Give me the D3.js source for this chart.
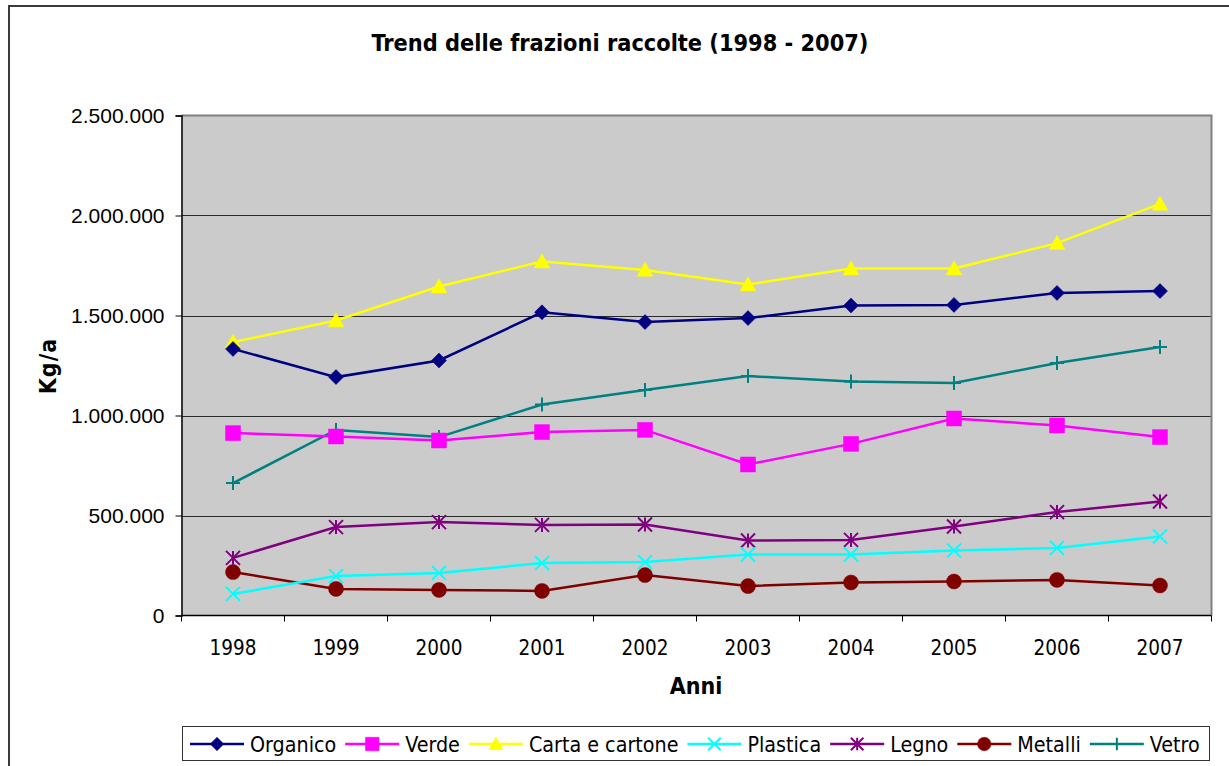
<!DOCTYPE html>
<html>
<head>
<meta charset="utf-8">
<script src="https://cdn.jsdelivr.net/npm/d3@7"></script>
<style>
  html, body { margin: 0; padding: 0; background: #fff; }
  svg { display: block; }
</style>
</head>
<body>
<svg id="chart" width="1229" height="766"></svg>
<script>
// Raccolta differenziata: quantità annue per frazione (kg/anno)
const years = ["1998", "1999", "2000", "2001", "2002", "2003", "2004", "2005", "2006", "2007"];

const organico = [1333000, 1192000, 1275000, 1516000, 1467000, 1487000, 1550000, 1553000, 1613000, 1622000];
const verde    = [912000, 895000, 875000, 917000, 928000, 755000, 858000, 985000, 950000, 892000];
const carta    = [1367000, 1475000, 1645000, 1770000, 1728000, 1655000, 1735000, 1735000, 1862000, 2058000];
const plastica = [108000, 197000, 213000, 262000, 267000, 305000, 305000, 325000, 338000, 395000];
const legno    = [288000, 442000, 467000, 453000, 455000, 375000, 378000, 445000, 517000, 570000];
const metalli  = [217000, 133000, 128000, 123000, 202000, 147000, 165000, 170000, 178000, 150000];
const vetro    = [662000, 928000, 892000, 1055000, 1128000, 1197000, 1170000, 1163000, 1262000, 1342000];

const yTicks = [0, 500000, 1000000, 1500000, 2000000, 2500000];

const series = [
  { name: "Organico",         values: organico, color: "#000080", marker: "diamond" },
  { name: "Verde",            values: verde,    color: "#FF00FF", marker: "square" },
  { name: "Carta e cartone",  values: carta,    color: "#FFFF00", marker: "triangle" },
  { name: "Plastica",         values: plastica, color: "#00FFFF", marker: "cross" },
  { name: "Legno",            values: legno,    color: "#800080", marker: "asterisk" },
  { name: "Metalli",          values: metalli,  color: "#800000", marker: "circle" },
  { name: "Vetro",            values: vetro,    color: "#008080", marker: "plus" }
];

const FONT = "'DejaVu Sans Condensed', 'DejaVu Sans', sans-serif";
const ARIAL = "'Liberation Sans', Arial, sans-serif";

const svg = d3.select("#chart");

// outer chart frame
svg.append("rect")
  .attr("x", 9).attr("y", 6).attr("width", 1260).attr("height", 820)
  .attr("fill", "#fff").attr("stroke", "#3a3a3a").attr("stroke-width", 2);

const plot = { left: 181.5, right: 1211.5, top: 115.5, bottom: 615.5 };

const x = d3.scaleBand().domain(years).range([plot.left, plot.right]);
const y = d3.scaleLinear().domain([0, 2500000]).range([plot.bottom, plot.top]);
const cx = d => x(d) + x.bandwidth() / 2;

// plot background
svg.append("rect")
  .attr("x", plot.left).attr("y", plot.top)
  .attr("width", plot.right - plot.left).attr("height", plot.bottom - plot.top)
  .attr("fill", "#cbcbcb");

// gridlines
svg.append("g").selectAll("line")
  .data(yTicks.filter(v => v > 0 && v < 2500000))
  .join("line")
  .attr("x1", plot.left).attr("x2", plot.right)
  .attr("y1", d => Math.round(y(d)) + 0.5).attr("y2", d => Math.round(y(d)) + 0.5)
  .attr("stroke", "#2a2a2a").attr("stroke-width", 1);

// top / right border of the plot area
svg.append("path")
  .attr("d", `M${plot.left},${plot.top} H${plot.right} V${plot.bottom}`)
  .attr("fill", "none").attr("stroke", "#808080").attr("stroke-width", 2);

// y axis
const fmt = v => d3.format(",")(v).replace(/,/g, ".");
const yAxis = svg.append("g")
  .attr("transform", `translate(${plot.left},0)`)
  .call(d3.axisLeft(y).tickValues(yTicks).tickFormat(fmt).tickSize(6).tickPadding(11));
yAxis.select(".domain").attr("stroke", "#000").attr("stroke-width", 1.5);
yAxis.selectAll(".tick line").attr("stroke", "#000");
yAxis.selectAll(".tick text")
  .attr("font-family", ARIAL).attr("font-size", 21).attr("fill", "#000");

// x axis: ticks on the band boundaries
const xAxisG = svg.append("g");
xAxisG.append("line")
  .attr("x1", plot.left).attr("x2", plot.right)
  .attr("y1", plot.bottom).attr("y2", plot.bottom)
  .attr("stroke", "#000").attr("stroke-width", 1.5);
const bounds = years.map(d => x(d)).concat([plot.right]);
xAxisG.selectAll("line.tk").data(bounds).join("line")
  .attr("class", "tk")
  .attr("x1", d => d).attr("x2", d => d)
  .attr("y1", plot.bottom).attr("y2", plot.bottom + 6)
  .attr("stroke", "#000").attr("stroke-width", 1);
xAxisG.selectAll("text").data(years).join("text")
  .attr("x", d => cx(d)).attr("y", 655)
  .attr("text-anchor", "middle")
  .attr("font-family", FONT).attr("font-size", 20.5).attr("fill", "#000")
  .text(d => d);

// titles
svg.append("text")
  .attr("x", 620).attr("y", 51)
  .attr("text-anchor", "middle")
  .attr("font-family", FONT).attr("font-weight", "bold").attr("font-size", 23.3)
  .text("Trend delle frazioni raccolte (1998 - 2007)");

svg.append("text")
  .attr("x", 696).attr("y", 694)
  .attr("text-anchor", "middle")
  .attr("font-family", FONT).attr("font-weight", "bold").attr("font-size", 23)
  .text("Anni");

svg.append("text")
  .attr("transform", "translate(56,366) rotate(-90)")
  .attr("text-anchor", "middle")
  .attr("font-family", FONT).attr("font-weight", "bold").attr("font-size", 23)
  .attr("letter-spacing", 1)
  .text("Kg/a");

// marker shapes
function markerPath(type, r) {
  switch (type) {
    case "diamond":  return `M0,${-r}L${r},0L0,${r}L${-r},0Z`;
    case "square":   return `M${-r},${-r}H${r}V${r}H${-r}Z`;
    case "triangle": return `M0,${-r * 1.05}L${r * 1.05},${r * 0.85}L${-r * 1.05},${r * 0.85}Z`;
    case "circle":   return d3.symbol(d3.symbolCircle, Math.PI * r * r)();
    case "cross":    return `M${-r},${-r}L${r},${r}M${r},${-r}L${-r},${r}`;
    case "plus":     return `M0,${-r}V${r}M${-r},0H${r}`;
    case "asterisk": return `M0,${-r}V${r}M${-r},${-r}L${r},${r}M${r},${-r}L${-r},${r}`;
  }
}
const filled = t => ["diamond", "square", "triangle", "circle"].includes(t);

function drawMarker(g, s, px, py, r) {
  const f = filled(s.marker);
  g.append("path")
    .attr("transform", `translate(${px},${py})`)
    .attr("d", markerPath(s.marker, r))
    .attr("fill", f ? s.color : "none")
    .attr("stroke", s.color)
    .attr("stroke-width", f ? 0.5 : 2);
}

const line = d3.line().x((v, i) => cx(years[i])).y(v => y(v));

// draw series in reverse legend order so the first series ends on top
const markerR = { diamond: 7.5, square: 7.5, triangle: 7.5, circle: 7.5, cross: 7, plus: 7, asterisk: 7 };
[...series].reverse().forEach(s => {
  const g = svg.append("g");
  g.append("path")
    .datum(s.values)
    .attr("d", line)
    .attr("fill", "none")
    .attr("stroke", s.color)
    .attr("stroke-width", 2.5);
  s.values.forEach((v, i) => drawMarker(g, s, cx(years[i]), y(v), markerR[s.marker]));
});

// legend
const leg = svg.append("g");
leg.append("rect")
  .attr("x", 182.5).attr("y", 726.5).attr("width", 1027).attr("height", 34)
  .attr("fill", "#fff").attr("stroke", "#333").attr("stroke-width", 1);

let lx = 190;
const ly = 744;
series.forEach(s => {
  leg.append("line")
    .attr("x1", lx).attr("x2", lx + 54)
    .attr("y1", ly).attr("y2", ly)
    .attr("stroke", s.color).attr("stroke-width", 2.5);
  drawMarker(leg, s, lx + 27, ly, markerR[s.marker] * 0.9);
  const t = leg.append("text")
    .attr("x", lx + 60).attr("y", ly + 7.5)
    .attr("font-family", FONT).attr("font-size", 21.3).attr("fill", "#000")
    .text(s.name);
  lx += 60 + t.node().getComputedTextLength() + 9;
});
</script>
</body>
</html>
